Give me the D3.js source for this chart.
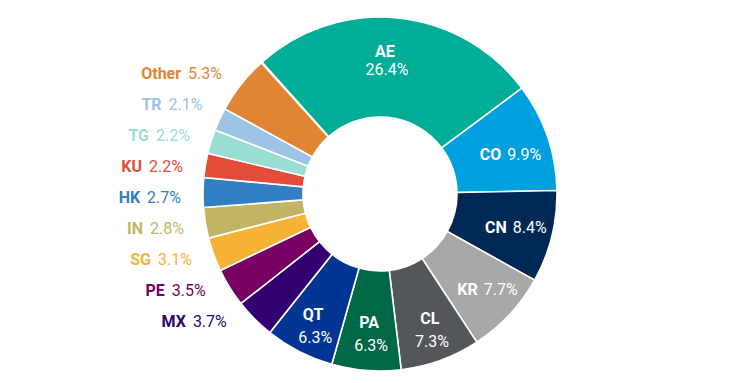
<!DOCTYPE html>
<html><head><meta charset="utf-8">
<script src="https://cdn.jsdelivr.net/npm/d3@7"></script>
<style>
html,body{margin:0;padding:0;background:#fff;}
svg{display:block;font-family:Roboto,"Noto Sans",sans-serif;}
</style></head>
<body>
<svg id="chart" width="737" height="383"></svg>
<script>
const categories = ["AE","CO","CN","KR","CL","PA","QT","MX","PE","SG","IN","HK","KU","TG","TR","Other"];
const values = [26.4,9.9,8.4,7.7,7.3,6.3,6.3,3.7,3.5,3.1,2.8,2.7,2.2,2.2,2.1,5.3];
const colors = ["#00AE97","#009FDF","#002855","#A7A8AA","#53565A","#006747","#003594","#330072","#780062","#F6B335","#C2B463","#307FC2","#E54B39","#9ADDD3","#9CC3E5","#E08534"];
const insideLabels = ["AE","CO","CN","KR","CL","PA","QT"];
const twoLine = ["AE","CL","PA","QT"];

const svg = d3.select("#chart");
const cx = 380, cy = 194, R = 177, r0 = 77;
const g = svg.append("g").attr("transform", `translate(${cx},${cy})`);

const startA = -41.8 * Math.PI / 180;
const total = d3.sum(values);
const pie = d3.pie().sort(null).value(d => d.v)
  .startAngle(startA).endAngle(startA + 2 * Math.PI * total / 100);
const data = categories.map((c, i) => ({c, v: values[i], col: colors[i]}));
const arcs = pie(data);
const arc = d3.arc().innerRadius(r0).outerRadius(R);

g.selectAll("path").data(arcs).join("path")
  .attr("d", arc).attr("fill", d => d.data.col)
  .attr("stroke", "#fff").attr("stroke-width", 1.6);

const fmt = v => v.toFixed(1) + "%";
const labelArc = d3.arc().innerRadius(140).outerRadius(140);
const FS = 16;
// small manual label nudges (layout only)
const nudge = {AE: [-9, 6], CO: [-2, 6], KR: [5, 0], CL: [2, 4], QT: [-3, 7]};

// inside labels
arcs.filter(d => insideLabels.includes(d.data.c)).forEach(d => {
  let [x, y] = labelArc.centroid(d);
  const n = nudge[d.data.c] || [0, 0];
  x += n[0]; y += n[1];
  const t = g.append("text").attr("fill", "#fff").attr("font-size", FS)
    .attr("text-anchor", "middle");
  if (twoLine.includes(d.data.c)) {
    const gap = d.data.c === "AE" ? 18 : 23;
    t.append("tspan").attr("x", x).attr("y", y - gap / 2 + 5.5).attr("font-weight", 700).text(d.data.c);
    t.append("tspan").attr("x", x + 2).attr("y", y + gap / 2 + 5.5).text(fmt(d.data.v));
  } else {
    t.attr("x", x).attr("y", y + 5.5);
    t.append("tspan").attr("font-weight", 700).text(d.data.c);
    t.append("tspan").attr("dx", 6).text(fmt(d.data.v));
  }
});

// outside labels (left side), stacked top-to-bottom: Other ... MX
const outside = arcs.filter(d => !insideLabels.includes(d.data.c)).reverse();
const step = 31, yTop = 73 - cy, Rl = 199;
outside.forEach((d, i) => {
  const y = yTop + i * step;
  const x = -Math.sqrt(Rl * Rl - y * y);
  const t = g.append("text").attr("x", x).attr("y", y + 5.5)
    .attr("text-anchor", "end").attr("font-size", FS).attr("fill", d.data.col);
  t.append("tspan").attr("font-weight", 700).text(d.data.c);
  t.append("tspan").attr("dx", 7).text(fmt(d.data.v));
});
</script>
</body></html>
